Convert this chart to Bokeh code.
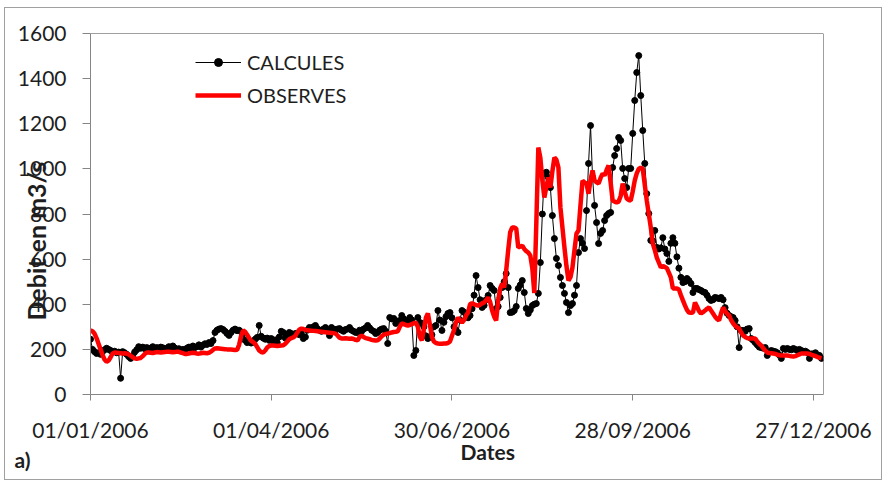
import numpy as np
import pandas as pd
from bokeh.plotting import figure
from bokeh.models import (Range1d, FixedTicker, DatetimeTickFormatter, Legend,
                          LegendItem, Span, ColumnDataSource, Title)
from bokeh.embed import file_html
from bokeh.resources import INLINE

# ---------------- data ----------------
dates = pd.date_range("2006-01-01", periods=365, freq="D")

calcules = [
    245, 200, 190, 182, 185, 178, 190, 198, 205, 200,
    195, 188, 192, 185, 188, 72, 190, 185, 178, 168,
    160, 172, 188, 198, 212, 205, 210, 203, 208, 200,
    206, 212, 205, 208, 202, 210, 207, 200, 205, 212,
    208, 215, 206, 198, 203, 196, 200, 195, 205, 210,
    202, 215, 208, 212, 220, 210, 218, 225, 222, 230,
    226, 239, 275, 285, 290, 292, 288, 280, 270, 262,
    275, 285, 290, 283, 285, 278, 268, 240, 230, 235,
    228, 232, 245, 253, 306, 258, 250, 245, 250, 240,
    248, 235, 242, 230, 255, 280, 275, 250, 265, 275,
    270, 262, 270, 272, 265, 270, 248, 255, 285, 297,
    290, 300, 306, 292, 285, 280, 290, 297, 285, 261,
    297, 290, 285, 290, 292, 285, 280, 288, 290, 297,
    285, 280, 275, 275, 285, 280, 290, 295, 306, 295,
    285, 280, 270, 275, 285, 290, 292, 280, 226, 341,
    335, 337, 315, 325, 328, 350, 335, 325, 320, 341,
    330, 173, 195, 341, 319, 315, 300, 260, 248, 255,
    265, 300, 306, 372, 330, 284, 320, 345, 359, 363,
    340, 300, 285, 275, 330, 372, 365, 355, 340, 350,
    380, 440, 527, 474, 420, 386, 395, 420, 439, 483,
    470, 461, 381, 390, 430, 474, 500, 536, 474, 363,
    365, 372, 390, 470, 485, 505, 452, 381, 359, 375,
    394, 400, 403, 448, 585, 800, 980, 985, 962, 917,
    793, 691, 603, 572, 519, 483, 448, 408, 363, 394,
    403, 440, 483, 629, 691, 670, 647, 815, 1024, 1192,
    962, 838, 762, 669, 714, 727, 771, 793, 802, 807,
    1006, 1059, 1090, 1139, 1126, 1002, 957, 917, 1002, 1002,
    1157, 1303, 1427, 1502, 1325, 1170, 1024, 890, 802, 683,
    680, 727, 652, 645, 650, 695, 645, 625, 590, 670,
    695, 670, 610, 560, 519, 496, 500, 514, 505, 492,
    452, 470, 470, 465, 461, 455, 452, 440, 425, 417,
    420, 430, 428, 425, 430, 420, 385, 360, 350, 345,
    341, 328, 300, 208, 284, 284, 280, 290, 292, 248,
    240, 230, 220, 210, 208, 205, 208, 173, 190, 195,
    192, 190, 185, 175, 160, 204, 200, 204, 200, 198,
    204, 200, 195, 200, 195, 190, 192, 186, 160, 180,
    180, 185, 175, 173, 160,
]

observes = [
    284, 280, 270, 250, 225, 200, 175, 155, 145, 150,
    165, 182, 186, 185, 184, 183, 182, 183, 182, 178,
    172, 165, 160, 158, 160, 162, 170, 180, 186, 186,
    185, 184, 186, 188, 187, 186, 187, 188, 190, 189,
    188, 187, 188, 190, 189, 186, 183, 180, 180, 182,
    184, 185, 184, 182, 181, 183, 185, 184, 183, 185,
    190, 198, 204, 205, 204, 203, 202, 201, 200, 200,
    199, 198, 197, 198, 220, 260, 284, 278, 265, 250,
    238, 232, 225, 210, 195, 188, 186, 195, 208, 215,
    217, 217, 216, 215, 216, 217, 218, 225, 235, 245,
    250, 253, 260, 275, 288, 292, 290, 286, 285, 284,
    283, 282, 281, 280, 279, 278, 277, 276, 275, 274,
    273, 272, 270, 262, 252, 248, 248, 249, 248, 247,
    248, 246, 242, 240, 255, 261, 255, 250, 248, 245,
    242, 240, 239, 240, 248, 258, 265, 268, 270, 272,
    275, 277, 278, 280, 300, 315, 312, 308, 306, 308,
    312, 316, 319, 300, 255, 240, 290, 340, 359, 310,
    255, 235, 228, 226, 225, 225, 226, 226, 228, 235,
    260, 285, 320, 341, 330, 319, 330, 350, 363, 400,
    405, 400, 396, 394, 398, 404, 408, 418, 430, 410,
    372, 345, 328, 417, 470, 492, 474, 550, 640, 720,
    740, 740, 736, 652, 655, 660, 645, 635, 629, 616,
    560, 450, 760, 1095, 1050, 950, 873, 920, 962, 917,
    990, 1050, 1040, 1006, 829, 740, 652, 570, 505, 520,
    563, 640, 714, 727, 840, 948, 940, 935, 890, 950,
    993, 948, 940, 935, 960, 979, 971, 995, 1015, 940,
    860, 855, 851, 855, 880, 935, 900, 869, 862, 860,
    900, 948, 980, 1000, 1006, 1000, 930, 860, 800, 740,
    669, 640, 607, 585, 563, 570, 565, 560, 540, 519,
    470, 470, 470, 465, 440, 417, 395, 375, 363, 362,
    363, 408, 390, 370, 359, 365, 372, 380, 386, 372,
    359, 345, 335, 328, 360, 386, 370, 358, 350, 330,
    315, 305, 298, 292, 275, 261, 255, 250, 248, 248,
    248, 248, 235, 225, 217, 205, 195, 186, 184, 183,
    182, 180, 176, 174, 173, 173, 173, 173, 171, 169,
    168, 170, 174, 178, 182, 182, 182, 182, 180, 176,
    173, 170, 166, 163, 160,
]

tick_dates = ["2006-01-01", "2006-04-01", "2006-06-30", "2006-09-28", "2006-12-27"]
y_ticks = [0, 200, 400, 600, 800, 1000, 1200, 1400, 1600]
series_labels = ["CALCULES", "OBSERVES"]


def ms(d):
    return pd.Timestamp(d).value // 10**6


x_start, x_end = ms("2006-01-01"), ms("2007-01-01")

src = ColumnDataSource(dict(date=dates, calc=calcules, obs=observes))

FONT = "Lato"
TXT = "#1e1e1e"
AXC = "#868686"

p = figure(width=878, height=473, x_axis_type="datetime",
           output_backend="svg", toolbar_location=None,
           x_range=Range1d(x_start, x_end), y_range=Range1d(0, 1600),
           min_border_left=85, min_border_right=60,
           min_border_top=25, min_border_bottom=87,
           background_fill_color="white", border_fill_color="white")
p.styles = {"margin-left": "4px", "margin-top": "7px", "border": "1px solid #a0a0a0"}

p.xgrid.visible = False
p.ygrid.visible = False
p.outline_line_color = None

l_calc = p.line("date", "calc", source=src, line_color="black", line_width=1)
s_calc = p.scatter("date", "calc", source=src, size=6, fill_color="black", line_color="black")
l_obs = p.line("date", "obs", source=src, line_color="#ff0000", line_width=4.5)

p.add_layout(Span(location=1600, dimension="width", line_color="#404040", line_width=1))
p.add_layout(Span(location=x_end, dimension="height", line_color="#404040", line_width=1))

# axes
xa = p.xaxis[0]
xa.ticker = FixedTicker(ticks=[ms(d) for d in tick_dates])
fmt = "%d/%m/%Y"
xa.formatter = DatetimeTickFormatter(milliseconds=fmt, seconds=fmt, minsec=fmt, minutes=fmt,
                                     hourmin=fmt, hours=fmt, days=fmt, months=fmt, years=fmt)
ya = p.yaxis[0]
ya.ticker = FixedTicker(ticks=y_ticks)
for ax in (xa, ya):
    ax.axis_line_color = AXC
    ax.major_tick_line_color = AXC
    ax.minor_tick_line_color = None
    ax.major_tick_in = 0
    ax.major_label_text_font = FONT
    ax.major_label_text_font_size = "21px"
    ax.major_label_text_color = TXT
xa.major_tick_out = 6
xa.major_label_standoff = 16
ya.major_tick_out = 8
ya.major_label_standoff = 16

# legend
legend = Legend(items=[LegendItem(label=series_labels[0], renderers=[l_calc, s_calc]),
                       LegendItem(label=series_labels[1], renderers=[l_obs])],
                location=(105, 287), orientation="vertical",
                glyph_width=46, glyph_height=20, label_height=20, label_standoff=6,
                spacing=9, padding=0, margin=0,
                border_line_alpha=0, background_fill_alpha=0,
                label_text_font=FONT, label_text_font_size="20px", label_text_color=TXT)
p.add_layout(legend)

# titles placed in the side panels (not clipped by the frame)
p.add_layout(Title(text="Debit en m3/s", align="left", offset=74, standoff=-72,
                   text_font=FONT, text_font_size="25px", text_font_style="bold",
                   text_color=TXT), "left")
p.add_layout(Title(text="Dates", align="left", offset=370, standoff=-16,
                   text_font=FONT, text_font_size="21px", text_font_style="bold",
                   text_color=TXT), "below")
p.add_layout(Title(text="a)", align="left", offset=-76, standoff=-22,
                   text_font=FONT, text_font_size="21px", text_font_style="bold",
                   text_color=TXT), "below")

open("out.html", "w").write(file_html(p, INLINE))
